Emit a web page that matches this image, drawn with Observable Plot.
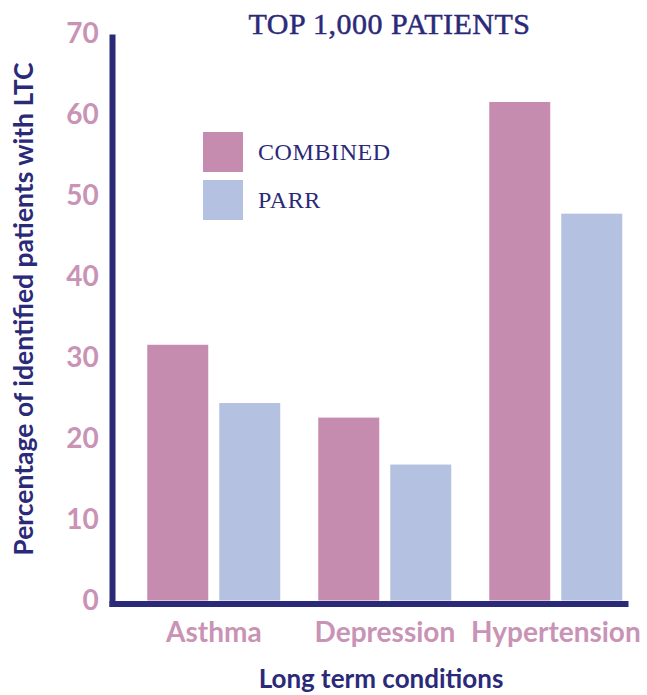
<!DOCTYPE html>
<html>
<head>
<meta charset="utf-8">
<script src="https://cdn.jsdelivr.net/npm/d3@7"></script>
<script src="https://cdn.jsdelivr.net/npm/@observablehq/plot@0.6"></script>
<style>
  body { margin: 0; background: #ffffff; }
  #wrap { position: relative; width: 647px; height: 695px; overflow: hidden; }
  #chart { position: absolute; left: 0; top: 0; }
  #title {
    position: absolute; left: 0; top: 7px; width: 779px; text-align: center;
    font-family: "Liberation Serif", serif; font-size: 30px; color: #2b2a78;
    letter-spacing: 0.5px; -webkit-text-stroke: 0.5px #2b2a78; white-space: nowrap;
  }
  .leg { position: absolute; left: 203px; display: flex; align-items: center; }
  .sw { width: 40px; height: 40px; }
  .lt { margin-left: 15px; font-family: "Liberation Serif", serif; font-size: 24px; color: #2b2a78; letter-spacing: 0.6px; }
  .axtitle {
    position: absolute; white-space: nowrap; font-family: Lato, sans-serif; font-weight: bold; color: #2b2a78;
    transform-origin: center center;
  }
  #ytitle { left: 23px; top: 309px; font-size: 26.5px; transform: translate(-50%, -50%) rotate(-90deg); }
  #xtitle { left: 381px; top: 678px; font-size: 26px; transform: translate(-50%, -50%); }
</style>
</head>
<body>
<div id="wrap">
  <div id="chart"></div>
  <div id="title">TOP 1,000 PATIENTS</div>
  <div id="legend"></div>
  <div id="ytitle" class="axtitle"></div>
  <div id="xtitle" class="axtitle"></div>
</div>
<script>
const conditions = ["Asthma", "Depression", "Hypertension"];
const series = ["COMBINED", "PARR"];
const combinedValues = [31.6, 22.6, 61.6];
const parrValues = [24.4, 16.8, 47.8];
const yTicks = [0, 10, 20, 30, 40, 50, 60, 70];
const yTitle = "Percentage of identified patients with LTC";
const xTitle = "Long term conditions";
const seriesColors = ["#c58caf", "#b5c1e0"];
const navy = "#2b2a78";
const pink = "#c993b5";

const data = conditions.flatMap((c, i) => [
  {condition: c, series: series[0], value: combinedValues[i]},
  {condition: c, series: series[1], value: parrValues[i]}
]);

const chart = Plot.plot({
  width: 647,
  height: 695,
  marginTop: 37,
  marginBottom: 91.5,
  marginLeft: 110.75,
  marginRight: 21.3,
  style: {background: "transparent", fontFamily: "Lato, sans-serif", overflow: "visible"},
  fx: {domain: conditions, padding: 0},
  x: {domain: series, paddingInner: 0.1468, paddingOuter: 0.2507, align: 0.937, axis: null},
  y: {domain: [0, 70], insetTop: -3, insetBottom: 3},
  color: {domain: series, range: seriesColors},
  marks: [
    Plot.barY(data, {fx: "condition", x: "series", y: "value", fill: "series"}),
    Plot.frame({anchor: "bottom", stroke: navy, strokeWidth: 6}),
    Plot.frame({anchor: "left", facetAnchor: "left", stroke: navy, strokeWidth: 6, strokeLinecap: "square"}),
    Plot.axisY(yTicks, {anchor: "left", tickSize: 0, tickPadding: 13.75, fill: pink, fontSize: 28, fontWeight: "bold", fontFamily: "Lato", label: null}),
    Plot.axisFx({anchor: "bottom", tickSize: 0, tickPadding: 18.5, dx: 15.9, fill: pink, fontSize: 28, fontWeight: "bold", fontFamily: "Lato", label: null})
  ]
});
document.getElementById("chart").appendChild(chart);
document.getElementById("ytitle").textContent = yTitle;
document.getElementById("xtitle").textContent = xTitle;

const legend = document.getElementById("legend");
series.forEach((s, i) => {
  const row = document.createElement("div");
  row.className = "leg";
  row.style.top = (132 + i * 48) + "px";
  const sw = document.createElement("div");
  sw.className = "sw";
  sw.style.background = seriesColors[i];
  const lt = document.createElement("div");
  lt.className = "lt";
  lt.textContent = s;
  row.appendChild(sw);
  row.appendChild(lt);
  legend.appendChild(row);
});
</script>
</body>
</html>
